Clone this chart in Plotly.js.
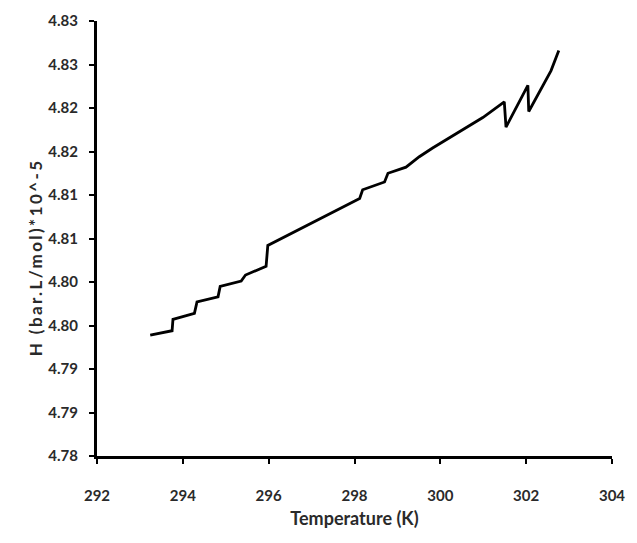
<!DOCTYPE html>
<html>
<head>
<meta charset="utf-8">
<script src="https://cdn.plot.ly/plotly-3.0.1.min.js"></script>
<style>
html,body{margin:0;padding:0;background:#fff;}
#chart{width:637px;height:543px;}
#chart .annotation-text{letter-spacing:2.4px;}
</style>
</head>
<body>
<div id="chart"></div>
<script>
var temperature = [293.24, 293.75, 293.77, 294.27, 294.33, 294.82, 294.87, 295.36, 295.46, 295.94, 295.98, 298.12, 298.19, 298.70, 298.78, 299.20, 299.51, 299.82, 300.99, 301.49, 301.53, 302.04, 302.06, 302.58, 302.76];
var henry = [4.7939, 4.7944, 4.7957, 4.7964, 4.7977, 4.7983, 4.7995, 4.8001, 4.8008, 4.8018, 4.8042, 4.8096, 4.8106, 4.8115, 4.8125, 4.8132, 4.8144, 4.8154, 4.8189, 4.8207, 4.8178, 4.8226, 4.8196, 4.8243, 4.8266];
var yTickVals = [4.78, 4.785, 4.79, 4.795, 4.80, 4.805, 4.81, 4.815, 4.82, 4.825, 4.83];
var yTickText = ["4.78", "4.79", "4.79", "4.80", "4.80", "4.81", "4.81", "4.82", "4.82", "4.83", "4.83"];
var xTickVals = [292, 294, 296, 298, 300, 302, 304];
var yTitle = 'H (bar.L/mol)*10^-5';

var fontFam = "Lato, 'Open Sans', sans-serif";
Plotly.newPlot('chart', [{
  x: temperature, y: henry, type: 'scatter', mode: 'lines',
  line: {color: '#000', width: 2.8}, showlegend: false
}], {
  width: 637, height: 543,
  margin: {l: 97, r: 25, t: 21, b: 87},
  paper_bgcolor: '#fff', plot_bgcolor: '#fff',
  font: {family: fontFam, color: '#222'},
  xaxis: {
    range: [292, 304], tickvals: xTickVals, ticktext: xTickVals.map(String),
    showgrid: false, zeroline: false, showline: true, linecolor: '#000', linewidth: 3,
    ticks: 'outside', ticklen: 5, tickwidth: 2, tickcolor: '#000',
    ticklabelstandoff: 19,
    tickfont: {family: fontFam, size: 15, color: '#2a2a2a', weight: 'bold'},
    title: {text: 'Temperature (K)', font: {family: fontFam, size: 18, color: '#2a2a2a', weight: 'bold'}, standoff: 10}
  },
  yaxis: {
    range: [4.78, 4.83], tickvals: yTickVals, ticktext: yTickText,
    showgrid: false, zeroline: false, showline: true, linecolor: '#000', linewidth: 3,
    ticks: 'outside', ticklen: 5, tickwidth: 2, tickcolor: '#000',
    ticklabelstandoff: 8,
    tickfont: {family: fontFam, size: 15, color: '#2a2a2a', weight: 'bold'}
  },
  annotations: [{
    text: yTitle, xref: 'paper', yref: 'paper', x: -0.12, y: 0.457,
    xanchor: 'center', yanchor: 'middle', textangle: -90, showarrow: false,
    font: {family: fontFam, size: 17, color: '#2a2a2a', weight: 'bold'}
  }]
}, {displayModeBar: false, staticPlot: true});
</script>
</body>
</html>
